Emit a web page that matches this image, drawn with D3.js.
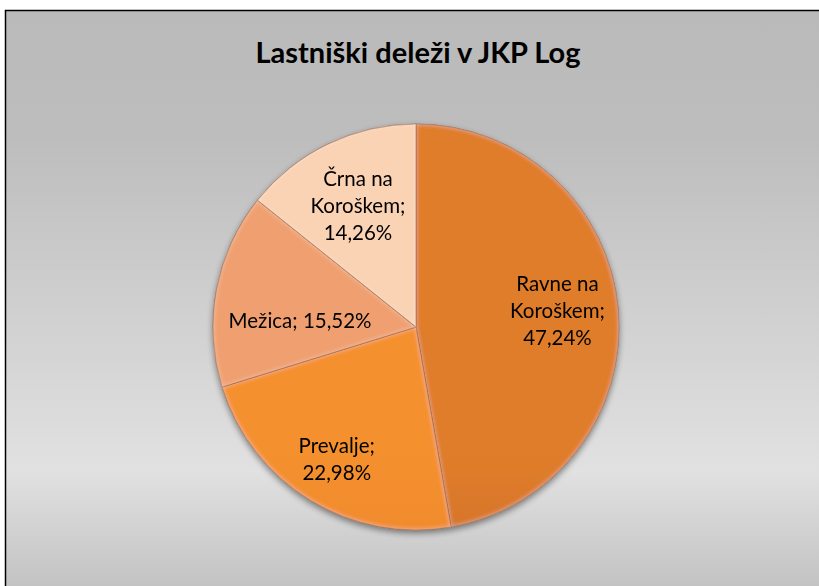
<!DOCTYPE html>
<html>
<head>
<meta charset="utf-8">
<script src="https://cdn.jsdelivr.net/npm/d3@7"></script>
<style>
  body { margin: 0; background: #fff; }
  svg { display: block; }
</style>
</head>
<body>
<svg></svg>
<script>
const svgWidth = 819
const svgHeight = 586

// data
const categories = ["Ravne na Koroškem", "Prevalje", "Mežica", "Črna na Koroškem"]
const shares = [47.24, 22.98, 15.52, 14.26]
const labelLines = [["Ravne na", "Koroškem;", "47,24%"], ["Prevalje;", "22,98%"], ["Mežica; 15,52%"], ["Črna na", "Koroškem;", "14,26%"]]
const sliceTop = ["#e07d2c", "#f5902f", "#f0a070", "#fad2b4"]
const sliceBottom = ["#b05a1a", "#e07822", "#dc8852", "#e4ab88"]

const center = {x: 416, y: 327}
const radius = 203

const svg = d3.select("svg")
  .attr("width", svgWidth)
  .attr("height", svgHeight)

const defs = svg.append("defs")

const bg = defs.append("linearGradient")
  .attr("id", "bg")
  .attr("gradientUnits", "userSpaceOnUse")
  .attr("x1", 0).attr("y1", 10).attr("x2", 0).attr("y2", 586)
bg.append("stop").attr("offset", 0).attr("stop-color", "#bababa")
bg.append("stop").attr("offset", 0.22).attr("stop-color", "#bdbdbd")
bg.append("stop").attr("offset", 0.8).attr("stop-color", "#e1e1e1")
bg.append("stop").attr("offset", 1).attr("stop-color", "#c3c3c3")

categories.forEach((c, i) => {
  const g = defs.append("linearGradient")
    .attr("id", "slice" + i)
    .attr("gradientUnits", "userSpaceOnUse")
    .attr("x1", 0).attr("y1", center.y - radius).attr("x2", 0).attr("y2", center.y + radius)
  g.append("stop").attr("offset", 0).attr("stop-color", sliceTop[i])
  g.append("stop").attr("offset", 1).attr("stop-color", sliceBottom[i])
})

const shadow = defs.append("filter").attr("id", "shadow")
  .attr("x", "-20%").attr("y", "-20%").attr("width", "140%").attr("height", "140%")
shadow.append("feGaussianBlur").attr("in", "SourceAlpha").attr("stdDeviation", 3)
shadow.append("feOffset").attr("dx", 0).attr("dy", 3).attr("result", "blur")
shadow.append("feComponentTransfer").append("feFuncA").attr("type", "linear").attr("slope", 0.45)
const merge = shadow.append("feMerge")
merge.append("feMergeNode")
merge.append("feMergeNode").attr("in", "SourceGraphic")

// soft inner bevel on each slice
const bevel = defs.append("filter").attr("id", "bevel")
bevel.append("feGaussianBlur").attr("in", "SourceAlpha").attr("stdDeviation", 2.5).attr("result", "b")
bevel.append("feComposite").attr("in", "SourceAlpha").attr("in2", "b").attr("operator", "arithmetic")
  .attr("k2", 1).attr("k3", -1).attr("result", "edge")
bevel.append("feFlood").attr("flood-color", "#ffffff").attr("flood-opacity", 0.35)
bevel.append("feComposite").attr("in2", "edge").attr("operator", "in").attr("result", "hl")
const bm = bevel.append("feMerge")
bm.append("feMergeNode").attr("in", "SourceGraphic")
bm.append("feMergeNode").attr("in", "hl")

// chart area
svg.append("rect")
  .attr("x", 5.5).attr("y", 10.5)
  .attr("width", svgWidth + 20).attr("height", svgHeight + 20)
  .attr("fill", "url(#bg)")
  .attr("stroke", "#000")
  .attr("stroke-width", 1.5)

svg.append("text")
  .attr("x", 418).attr("y", 63)
  .attr("text-anchor", "middle")
  .attr("font-family", "Lato, 'Open Sans', sans-serif")
  .attr("font-weight", "bold")
  .attr("font-size", 29)
  .attr("fill", "#000")
  .text("Lastniški deleži v JKP Log")

const pie = d3.pie().sort(null).value((d) => d)
const arcs = pie(shares)
const arc = d3.arc().innerRadius(0).outerRadius(radius)

const pieG = svg.append("g")
  .attr("transform", `translate(${center.x},${center.y})`)

const sliceG = pieG.append("g").attr("filter", "url(#shadow)")
sliceG.selectAll("path")
  .data(arcs)
  .enter()
  .append("path")
  .attr("d", arc)
  .attr("fill", (d, i) => "url(#slice" + i + ")")
  .attr("filter", "url(#bevel)")
  .attr("stroke", "#8a4e22")
  .attr("stroke-opacity", 0.6)
  .attr("stroke-width", 1)

// labels: centroid at a per-slice radius, nudged like excel's best fit
const labelRadius = [142, 152, 118, 134]
const labelNudge = [[0, -4], [0, 3], [0, 16], [0, 0]]
const lineHeight = 27

const labels = pieG.selectAll("text.lbl")
  .data(arcs)
  .enter()
  .append("text")
  .attr("class", "lbl")
  .attr("text-anchor", "middle")
  .attr("font-family", "Lato, 'Open Sans', sans-serif")
  .attr("font-size", 20.5)
  .attr("fill", "#000")
  .attr("transform", (d, i) => {
    const c = d3.arc().innerRadius(labelRadius[i]).outerRadius(labelRadius[i]).centroid(d)
    return `translate(${c[0] + labelNudge[i][0]},${c[1] + labelNudge[i][1]})`
  })

labels.each(function (d, i) {
  const lines = labelLines[i]
  const t = d3.select(this)
  lines.forEach((line, j) => {
    t.append("tspan")
      .attr("x", 0)
      .attr("y", (j - (lines.length - 1) / 2) * lineHeight + 7)
      .text(line)
  })
})
</script>
</body>
</html>
